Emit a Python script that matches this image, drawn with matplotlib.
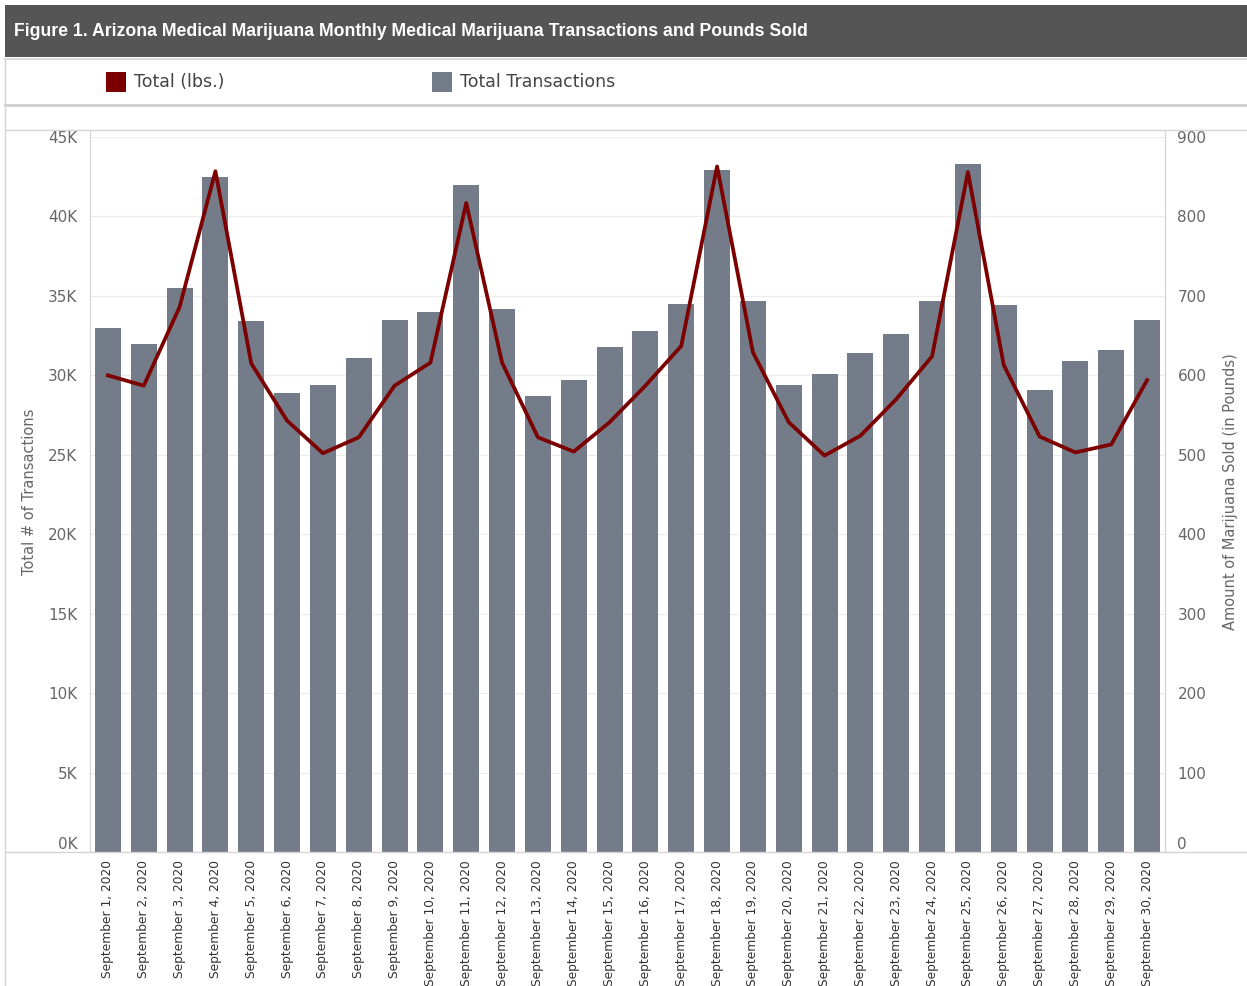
import matplotlib.pyplot as plt
import numpy as np
from matplotlib.patches import Rectangle
from matplotlib.lines import Line2D
import matplotlib.ticker as ticker

# Datos
dias = [f'September {d}, 2020' for d in range(1, 31)]
transacciones = [33000, 32000, 35500, 42500, 33400, 28900, 29400, 31100, 33500, 34000,
                 42000, 34200, 28700, 29700, 31800, 32800, 34500, 42900, 34700, 29400,
                 30100, 31400, 32600, 34700, 43300, 34400, 29100, 30900, 31600, 33500]
libras = [600, 587, 686, 857, 615, 543, 502, 522, 587, 616,
          817, 616, 522, 504, 541, 587, 637, 863, 629, 541,
          499, 524, 570, 624, 856, 613, 523, 503, 513, 594]

color_barra = '#747c8a'
color_linea = '#7d0000'
color_texto = '#666666'
color_borde = '#d4d4d4'

W, H = 1247, 986
fig = plt.figure(figsize=(W / 100, H / 100), dpi=100)

def fx(x):
    return x / W

def fy(y):
    return 1 - y / H

# Barra de titulo
fig.patches.append(Rectangle((fx(5), fy(57)), fx(W - 5), 52 / H, transform=fig.transFigure,
                             facecolor='#555555', edgecolor='none', zorder=0))
fig.text(fx(14), fy(32), 'Figure 1. Arizona Medical Marijuana Monthly Medical Marijuana Transactions and Pounds Sold',
         color='white', fontsize=12.7, fontweight='bold', va='center', ha='left',
         family=['Liberation Sans', 'DejaVu Sans'])

# Lineas separadoras
for y, lw, c in [(59, 1.2, color_borde), (105, 2.0, '#cfcfcf'), (130, 1.0, color_borde), (852, 1.0, color_borde)]:
    fig.add_artist(Line2D([fx(5), 1], [fy(y), fy(y)], transform=fig.transFigure, color=c, lw=lw))
fig.add_artist(Line2D([fx(5), fx(5)], [fy(59), fy(986)], transform=fig.transFigure, color=color_borde, lw=1))

# Leyenda
fig.patches.append(Rectangle((fx(106), fy(92)), 20 / W, 20 / H, transform=fig.transFigure,
                             facecolor='#7d0000', edgecolor='none'))
fig.text(fx(134), fy(82), 'Total (lbs.)', color='#444444', fontsize=12.5, va='center')
fig.patches.append(Rectangle((fx(432), fy(92)), 20 / W, 20 / H, transform=fig.transFigure,
                             facecolor=color_barra, edgecolor='none'))
fig.text(fx(460), fy(82), 'Total Transactions', color='#444444', fontsize=12.5, va='center')

# Grafica principal
ax1 = fig.add_axes([fx(90), fy(852), fx(1165) - fx(90), (852 - 131) / H])
x = np.arange(len(dias))
ax1.bar(x, transacciones, width=0.73, color=color_barra, zorder=2)
ax1.set_xlim(-0.5, len(dias) - 0.5)
ymax = 45380
ax1.set_ylim(0, ymax)
ax1.set_yticks(np.arange(0, 45001, 5000))
ax1.yaxis.set_major_formatter(ticker.FuncFormatter(lambda v, p: f'{int(v / 1000)}K'))
ax1.grid(axis='y', color='#ececec', lw=0.8, zorder=0)
ax1.set_axisbelow(True)
ax1.set_xticks(x)
ax1.set_xticklabels(dias, rotation=90, fontsize=8.8, color='#333333')
ax1.tick_params(axis='x', length=0, pad=6)
ax1.tick_params(axis='y', length=0, labelsize=11, labelcolor=color_texto, pad=9)
ax1.set_ylabel('Total # of Transactions', fontsize=10.5, color=color_texto, labelpad=8)
ax1.get_yticklabels()[0].set_va('bottom')
for s in ['top', 'bottom']:
    ax1.spines[s].set_visible(False)
for s in ['left', 'right']:
    ax1.spines[s].set_color(color_borde)

ax2 = ax1.twinx()
ax2.plot(x, libras, color=color_linea, lw=2.7, zorder=3, solid_joinstyle='round')
ax2.set_ylim(0, ymax / 50)
ax2.set_yticks(np.arange(0, 901, 100))
ax2.tick_params(axis='y', length=0, labelsize=11, labelcolor=color_texto, pad=9)
ax2.set_ylabel('Amount of Marijuana Sold (in Pounds)', fontsize=10.5, color=color_texto, labelpad=12)
ax2.get_yticklabels()[0].set_va('bottom')
for s in ['top', 'bottom', 'left']:
    ax2.spines[s].set_visible(False)
ax2.spines['right'].set_color(color_borde)

fig.savefig('out.png', dpi=100)
